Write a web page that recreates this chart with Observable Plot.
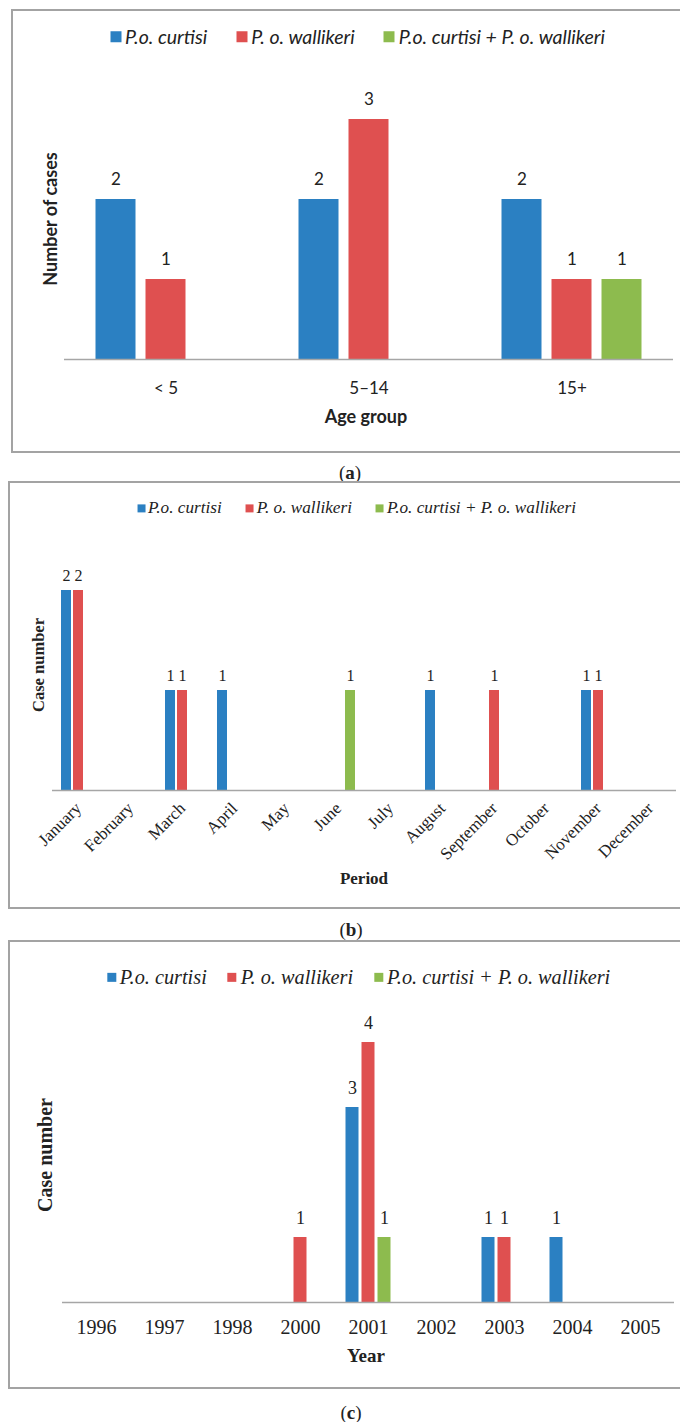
<!DOCTYPE html>
<html><head><meta charset="utf-8">
<script src="https://cdn.jsdelivr.net/npm/d3@7"></script>
<script src="https://cdn.jsdelivr.net/npm/@observablehq/plot@0.6"></script>
<style>
body{margin:0;background:#fff;}
#page{position:relative;width:680px;height:1422px;overflow:hidden;background:#fff;color:#222;}
.box{position:absolute;border:2px solid #a3a3a3;box-sizing:border-box;}
.t{position:absolute;white-space:nowrap;transform:translate(-50%,-50%);line-height:1;}
.rot{transform:translate(-50%,-50%) rotate(-90deg);}
.legend{position:absolute;display:flex;align-items:center;white-space:nowrap;transform:translate(-50%,-50%);line-height:1;}
.legend .it{display:flex;align-items:center;}
.legend .sw{display:inline-block;}
svg{position:absolute;left:0;}
</style></head>
<body><div id="page"></div>
<script>
const seriesNames = ["P.o. curtisi", "P. o. wallikeri", "P.o. curtisi + P. o. wallikeri"];
const seriesColors = ["#2b80c2", "#df5050", "#8dbb4e"];

// (a) Age group
const ageGroups = ["< 5", "5–14", "15+"];
const ageCurtisi = [2, 2, 2];
const ageWallikeri = [1, 3, 1];
const ageBoth = [0, 0, 1];

// (b) Period (month)
const months = ["January","February","March","April","May","June","July","August","September","October","November","December"];
const monthCurtisi = [2,0,1,1,0,0,0,1,0,0,1,0];
const monthWallikeri = [2,0,1,0,0,0,0,0,1,0,1,0];
const monthBoth = [0,0,0,0,0,1,0,0,0,0,0,0];

// (c) Year
const years = ["1996","1997","1998","2000","2001","2002","2003","2004","2005"];
const yearCurtisi = [0,0,0,0,3,0,1,1,0];
const yearWallikeri = [0,0,0,1,4,0,1,0,0];
const yearBoth = [0,0,0,0,1,0,0,0,0];

const page = document.getElementById("page");

function rows(cats, vals) {
  const out = [];
  cats.forEach((c, i) => vals.forEach((v, s) => {
    if (v[i] > 0) out.push({cat: c, series: seriesNames[s], value: v[i]});
  }));
  return out;
}

function add(html) { page.insertAdjacentHTML("beforeend", html); }

function box(left, top, height) {
  add(`<div class="box" style="left:${left}px;top:${top}px;width:${700-left}px;height:${height}px"></div>`);
}

function legend(cx, cy, font, size, sq, gapSq, gapItem) {
  const items = seriesNames.map((n, i) =>
    `<span class="it" style="margin-right:${i < 2 ? gapItem : 0}px"><span class="sw" style="width:${sq}px;height:${sq}px;background:${seriesColors[i]};margin-right:${gapSq}px"></span><span style="font-style:italic">${n}</span></span>`).join("");
  add(`<div class="legend" style="left:${cx}px;top:${cy}px;font-family:${font};font-size:${size}px">${items}</div>`);
}

function text(str, cx, cy, font, size, weight, rot) {
  add(`<div class="t${rot ? " rot" : ""}" style="left:${cx}px;top:${cy}px;font-family:${font};font-size:${size}px;font-weight:${weight}">${str}</div>`);
}

function panel(o) {
  const data = rows(o.cats, o.vals);
  const svg = Plot.plot({
    width: 680, height: o.height,
    marginTop: o.mt, marginBottom: o.mb, marginLeft: o.ml, marginRight: o.mr,
    style: {fontFamily: o.font, fontSize: o.tickFont + "px", background: "transparent", overflow: "visible", color: "#222"},
    fx: {domain: o.cats, padding: 0, label: null, axis: "bottom", tickSize: 0, tickPadding: o.tickPadding, tickRotate: o.tickRotate || 0},
    x: {domain: seriesNames, paddingInner: o.pi, paddingOuter: o.po, axis: null},
    y: {domain: [0, o.ymax], axis: null},
    color: {domain: seriesNames, range: seriesColors},
    marks: [
      Plot.barY(data, {fx: "cat", x: "series", y: "value", fill: "series"}),
      Plot.ruleY(o.cats, {fx: d => d, y: 0, stroke: "#a6a6a6", strokeWidth: 1.5}),
      Plot.text(data, {fx: "cat", x: "series", y: "value", text: d => String(d.value), dy: o.labelDy, fontSize: o.labelFont, fill: "#222"})
    ]
  });
  svg.style.top = o.top + "px";
  page.appendChild(svg);
}

const CAL = "Lato, 'Open Sans', sans-serif";
const TNR = "'Liberation Serif', 'DejaVu Serif', serif";

// ---------- Panel (a)
box(11, 9, 444);
legend(357.5, 37, CAL, 19.5, 11, 4, 29);
panel({cats: ageGroups, vals: [ageCurtisi, ageWallikeri, ageBoth], top: 0, height: 452,
  mt: 119, mb: 93, ml: 63.5, mr: 7.5, ymax: 3, pi: 0.21, po: 0.615,
  font: CAL, tickFont: 17, tickPadding: 22, labelDy: -19.5, labelFont: 17});
text("Number of cases", 49.5, 219, CAL, 18, 700, true);
text("Age group", 366, 416, CAL, 18, 700);
text("(<b>a</b>)", 350, 472, TNR, 19, 400);

// ---------- Panel (b)
box(8, 481, 428);
legend(356.5, 508, TNR, 17.2, 8, 3, 24);
panel({cats: months, vals: [monthCurtisi, monthWallikeri, monthBoth], top: 482, height: 426,
  mt: 108, mb: 118, ml: 51, mr: 2.5, ymax: 2, pi: 0.15, po: 0.63,
  font: TNR, tickFont: 17, tickPadding: 15, tickRotate: -45, labelDy: -15, labelFont: 16});
text("Case number", 39, 665, TNR, 16.5, 700, true);
text("Period", 364, 878, TNR, 17, 700);
text("(<b>b</b>)", 351, 929, TNR, 19, 400);

// ---------- Panel (c)
box(8, 940, 449);
legend(358.5, 977, TNR, 20.3, 9, 4, 21);
panel({cats: years, vals: [yearCurtisi, yearWallikeri, yearBoth], top: 941, height: 447,
  mt: 101, mb: 86, ml: 59.5, mr: 4, ymax: 4, pi: 0.2, po: 0.615,
  font: TNR, tickFont: 20, tickPadding: 17.5, labelDy: -19.5, labelFont: 18});
text("Case number", 45, 1155, TNR, 20, 700, true);
text("Year", 366, 1355, TNR, 19, 700);
text("(<b>c</b>)", 351, 1412, TNR, 19, 400);
</script>
</body></html>
